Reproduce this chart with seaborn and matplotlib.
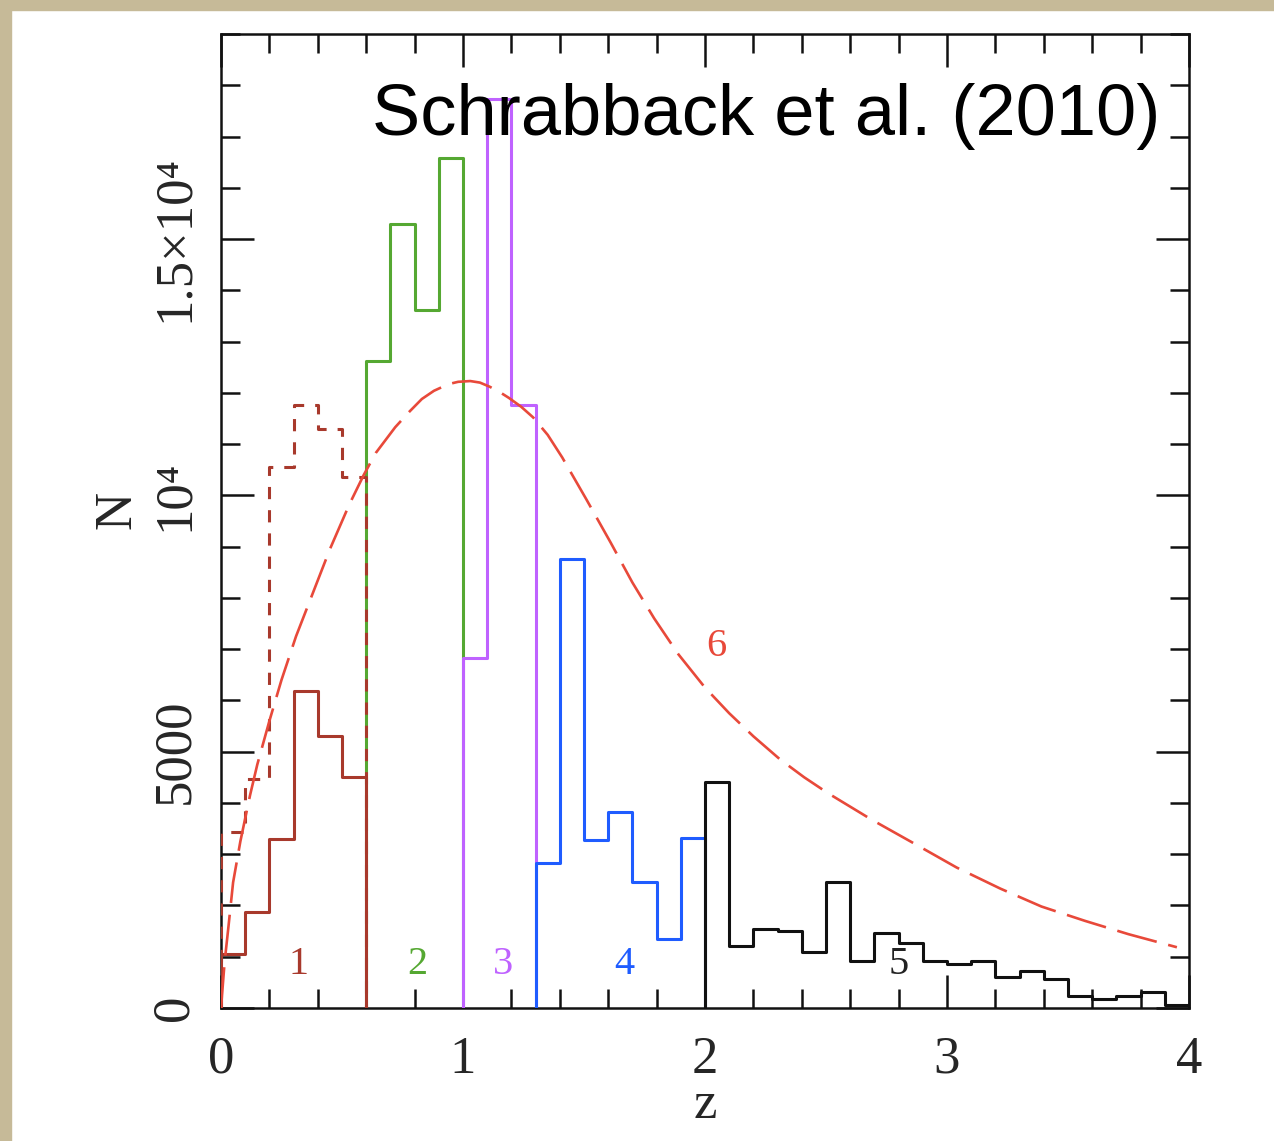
import numpy as np
import pandas as pd
import matplotlib
matplotlib.use("Agg")
import matplotlib.pyplot as plt
from matplotlib.patches import Rectangle
from matplotlib.ticker import FixedLocator, MultipleLocator, FixedFormatter
import seaborn as sns

# ---------------- data ----------------
pop1_edges = [0.0, 0.1, 0.2, 0.3, 0.4, 0.5, 0.6]
pop1_solid = [1050, 1870, 3300, 6180, 5300, 4510]
pop1_dashed = [3440, 4460, 10550, 11770, 11300, 10360]

pop2_edges = [0.6, 0.7, 0.8, 0.9, 1.0]
pop2 = [12630, 15300, 13620, 16590]

pop3_edges = [1.0, 1.1, 1.2, 1.3]
pop3 = [6835, 17740, 11770]

pop4_edges = [1.3, 1.4, 1.5, 1.6, 1.7, 1.8, 1.9, 2.0]
pop4 = [2820, 8750, 3270, 3820, 2450, 1345, 3320]

pop5_edges = [2.0, 2.1, 2.2, 2.3, 2.4, 2.5, 2.6, 2.7, 2.8, 2.9, 3.0,
              3.1, 3.2, 3.3, 3.4, 3.5, 3.6, 3.7, 3.8, 3.9, 4.0]
pop5 = [4410, 1210, 1545, 1500, 1095, 2450, 910, 1460, 1260, 910,
        850, 910, 610, 720, 565, 235, 175, 235, 320, 60]

curve_z = [0.0, 0.015, 0.03, 0.05, 0.08, 0.12, 0.15, 0.20, 0.25, 0.31,
           0.38, 0.45, 0.53, 0.59, 0.64, 0.72, 0.78, 0.83, 0.88, 0.94,
           0.98, 1.03, 1.07, 1.11, 1.15, 1.19, 1.24, 1.29, 1.35, 1.41,
           1.51, 1.61, 1.70, 1.79, 1.89, 2.0, 2.1, 2.2, 2.31, 2.41,
           2.51, 2.69, 2.86, 3.04, 3.22, 3.39, 3.57, 3.75, 3.95]
curve_n = [0, 900, 1550, 2450, 3250, 4150, 4750, 5600, 6400, 7250,
           8100, 8950, 9820, 10400, 10830, 11330, 11640, 11880, 12040, 12170,
           12215, 12230, 12200, 12120, 12020, 11900, 11730, 11520, 11180, 10740,
           9920, 9080, 8300, 7600, 6900, 6250, 5750, 5300, 4850, 4500,
           4185, 3670, 3220, 2740, 2330, 1980, 1700, 1440, 1185]

labels = ["1", "2", "3", "4", "5", "6"]
label_z = [0.32, 0.81, 1.165, 1.665, 2.80, 2.045]
label_n = [850, 850, 850, 850, 850, 7050]

ytick_vals = [0, 5000, 10000, 15000]
ytick_text = ["0", "5000", "10\u2074", "1.5\u00d710\u2074"]
xtick_vals = [0, 1, 2, 3, 4]
xtick_text = ["0", "1", "2", "3", "4"]

title_text = "Schrabback et al. (2010)"

# ---------------- styling ----------------
sns.set_theme(style="ticks")
plt.rcParams["font.family"] = ["Liberation Serif", "DejaVu Serif"]

W, H = 1274, 1141
fig = plt.figure(figsize=(W / 100, H / 100), dpi=100)
fig.patch.set_facecolor("white")
# beige frame (left and top strips)
fig.patches.append(Rectangle((0, 0), 11 / W, 1, transform=fig.transFigure,
                             color="#c6ba98", zorder=0))
fig.patches.append(Rectangle((0, 1 - 10 / H), 1, 10 / H, transform=fig.transFigure,
                             color="#c6ba98", zorder=0))

ax = fig.add_axes([221 / W, (H - 1008) / H, 968 / W, 974 / H])
ax.set_facecolor("white")


def step_frame(edges, heights):
    xs = [edges[0]] + list(edges[:-1]) + [edges[-1], edges[-1]]
    ys = [0] + list(heights) + [heights[-1], 0]
    return pd.DataFrame({"z": xs, "N": ys})


def draw_step(edges, heights, color, z, ls="-"):
    df = step_frame(edges, heights)
    sns.lineplot(data=df, x="z", y="N", ax=ax, estimator=None, sort=False,
                 drawstyle="steps-post", color=color, linewidth=2.2,
                 linestyle=ls, zorder=z)


draw_step(pop2_edges, pop2, "#55a832", 2)
draw_step(pop1_edges, pop1_dashed, "#a8392c", 3, ls=(0, (4.0, 3.6)))
draw_step(pop1_edges, pop1_solid, "#a8392c", 3)
draw_step(pop3_edges, pop3, "#bf62ff", 4)
draw_step(pop4_edges, pop4, "#1f5cff", 5)
draw_step(pop5_edges, pop5, "#111111", 6)

cdf = pd.DataFrame({"z": curve_z, "N": curve_n})
sns.lineplot(data=cdf, x="z", y="N", ax=ax, estimator=None, sort=False,
             color="#e8493a", linewidth=1.9, linestyle=(0, (15.5, 4.5)), zorder=7)

label_colors = ["#a8392c", "#55a832", "#bf62ff", "#1f5cff", "#222222", "#e8493a"]
for t, zx, ny, c in zip(labels, label_z, label_n, label_colors):
    ax.text(zx, ny, t, color=c, fontsize=29, ha="center", va="center", zorder=8)

ax.text(0.970, 0.896, title_text, transform=ax.transAxes, ha="right",
        va="baseline", fontsize=52, family=["Liberation Sans", "DejaVu Sans"],
        color="black", zorder=9)

ax.set_xlim(0, 4)
ax.set_ylim(0, 19000)

ax.xaxis.set_major_locator(FixedLocator(xtick_vals))
ax.xaxis.set_major_formatter(FixedFormatter(xtick_text))
ax.xaxis.set_minor_locator(MultipleLocator(0.2))
ax.yaxis.set_major_locator(FixedLocator(ytick_vals))
ax.yaxis.set_major_formatter(FixedFormatter(ytick_text))
ax.yaxis.set_minor_locator(MultipleLocator(1000))

ax.tick_params(which="both", direction="in", top=True, right=True,
               color="#111111", width=1.8)
ax.tick_params(which="major", length=24)
ax.tick_params(which="minor", length=14)
ax.tick_params(axis="x", which="major", labelsize=38, pad=20)
ax.tick_params(axis="y", which="major", labelsize=38, pad=16)
for lab in ax.get_yticklabels():
    lab.set_rotation(90)
    lab.set_va("center")
    lab.set_ha("right")

for s in ax.spines.values():
    s.set_linewidth(1.8)
    s.set_color("#111111")
    s.set_visible(True)

ax.set_xlabel("z", fontsize=38)
ax.set_ylabel("N", fontsize=38)
ax.xaxis.set_label_coords((705 - 221) / 968, (1008 - 1105) / 974)
ax.yaxis.set_label_coords((118 - 221) / 968, (1008 - 510) / 974)
ax.xaxis.label.set_va("center")
ax.yaxis.label.set_va("center")

fig.savefig("out.png", dpi=100, facecolor=fig.get_facecolor())
